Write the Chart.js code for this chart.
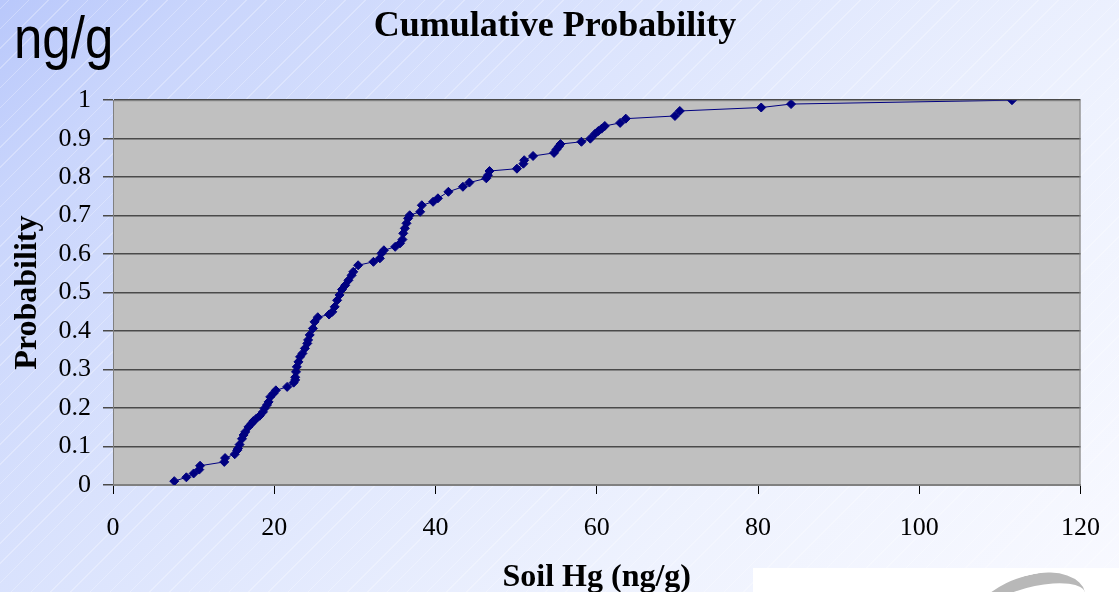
<!DOCTYPE html>
<html lang="en">
<head>
    <meta charset="UTF-8">
    <title>Cumulative Probability - Soil Hg</title>
    <script src="https://cdnjs.cloudflare.com/ajax/libs/Chart.js/4.4.1/chart.umd.min.js"></script>
    <style>
        html, body {
            margin: 0;
            padding: 0;
            width: 1119px;
            height: 592px;
            overflow: hidden;
        }
        body {
            position: relative;
            background:
                repeating-linear-gradient(-45deg, rgba(255,255,255,0) 0px, rgba(255,255,255,0) 13px, rgba(255,255,255,0.28) 13px, rgba(255,255,255,0.28) 14px),
                linear-gradient(135deg, #b9c8fb 0%, #c9d5fc 12%, #dde5fd 40%, #eef2fe 70%, #f8f9ff 100%);
        }
        #unit {
            position: absolute;
            left: 14px;
            top: 3px;
            font-family: "Liberation Sans Narrow", "Liberation Sans", sans-serif;
            font-size: 60px;
            color: #000;
            transform: scaleX(0.85);
            transform-origin: left top;
        }
        #logo-box {
            position: absolute;
            left: 753px;
            top: 568px;
            width: 366px;
            height: 24px;
            background: #fff;
            overflow: hidden;
        }
        #logo-box .swoosh {
            position: absolute;
            left: 215px;
            top: 8px;
            width: 120px;
            height: 60px;
            border-top: 12px solid #b8b8b8;
            border-radius: 60% 40% 0 0;
            transform: rotate(-12deg);
        }
        canvas {
            position: absolute;
            left: 0;
            top: 0;
        }
    </style>
</head>
<body>
    <div id="unit">ng/g</div>
    <div id="logo-box"><div class="swoosh"></div></div>
    <canvas id="cdfChart" width="1119" height="592"></canvas>

    <script>
        // Soil Hg values (ng/g) and their cumulative probabilities
        const soilHg = [
            7.6, 9.1, 10.0, 10.7, 10.8, 13.8, 13.9, 15.1, 15.4, 15.5,
            15.7, 16.0, 16.2, 16.4, 16.8, 17.2, 17.4, 17.8, 18.2, 18.6,
            18.8, 19.1, 19.3, 19.5, 19.9, 20.2, 21.6, 22.4, 22.6, 22.6,
            22.7, 22.8, 23.0, 23.2, 23.5, 23.8, 24.1, 24.2, 24.4, 24.8,
            25.0, 25.4, 26.8, 27.2, 27.5, 27.8, 28.1, 28.4, 28.8, 29.2,
            29.6, 29.8, 30.4, 32.3, 33.1, 33.3, 33.6, 35.0, 35.6, 35.9,
            36.0, 36.2, 36.4, 36.6, 36.8, 38.1, 38.3, 39.7, 40.3, 41.6,
            43.4, 44.2, 46.3, 46.5, 46.7, 50.1, 50.9, 51.0, 52.1, 54.7,
            55.0, 55.3, 55.5, 58.1, 59.2, 59.8, 60.2, 60.6, 61.0, 62.9,
            63.6, 69.7, 70.3, 80.4, 84.1, 111.5
        ];
        const probability = [
            0.010, 0.020, 0.030, 0.040, 0.050, 0.060, 0.070, 0.080, 0.090, 0.095,
            0.105, 0.120, 0.130, 0.138, 0.151, 0.160, 0.166, 0.173, 0.180, 0.190,
            0.199, 0.208, 0.216, 0.229, 0.238, 0.246, 0.255, 0.266, 0.273, 0.280,
            0.294, 0.307, 0.320, 0.333, 0.342, 0.355, 0.368, 0.377, 0.390, 0.407,
            0.424, 0.436, 0.443, 0.450, 0.463, 0.480, 0.494, 0.508, 0.519, 0.532,
            0.545, 0.554, 0.571, 0.580, 0.589, 0.602, 0.610, 0.619, 0.628, 0.638,
            0.654, 0.667, 0.680, 0.693, 0.701, 0.710, 0.727, 0.736, 0.745, 0.762,
            0.775, 0.786, 0.797, 0.805, 0.816, 0.822, 0.835, 0.844, 0.855, 0.863,
            0.872, 0.880, 0.886, 0.892, 0.900, 0.913, 0.920, 0.926, 0.933, 0.941,
            0.952, 0.959, 0.972, 0.981, 0.990, 1.000
        ];
        const xTicks = [0, 20, 40, 60, 80, 100, 120];
        const yTicks = [0, 0.1, 0.2, 0.3, 0.4, 0.5, 0.6, 0.7, 0.8, 0.9, 1];

        const points = soilHg.map((x, i) => ({ x: x, y: probability[i] }));

        // grey plot area with a border, like the spreadsheet chart
        const plotArea = {
            id: 'plotArea',
            beforeDraw(chart) {
                const { ctx, chartArea: a } = chart;
                ctx.save();
                ctx.fillStyle = '#c0c0c0';
                ctx.fillRect(a.left, a.top, a.right - a.left, a.bottom - a.top);
                ctx.restore();
            },
            beforeDatasetsDraw(chart) {
                const { ctx, chartArea: a } = chart;
                ctx.save();
                ctx.strokeStyle = '#808080';
                ctx.lineWidth = 1;
                ctx.strokeRect(a.left + 0.5, a.top + 0.5, a.right - a.left - 1, a.bottom - a.top - 1);
                ctx.restore();
            }
        };

        const serif = '"Liberation Serif", "Times New Roman", serif';

        new Chart(document.getElementById('cdfChart'), {
            type: 'line',
            data: {
                datasets: [{
                    data: points,
                    borderColor: '#000080',
                    backgroundColor: '#000080',
                    borderWidth: 1,
                    pointStyle: 'rectRot',
                    pointRadius: 4.5,
                    pointBorderWidth: 1,
                    tension: 0
                }]
            },
            options: {
                responsive: false,
                animation: false,
                // left padding shifts the centred title to where it sits in the slide
                layout: { padding: { left: 29, right: 38, top: 0, bottom: 0 } },
                plugins: {
                    legend: { display: false },
                    tooltip: { enabled: false },
                    title: {
                        display: true,
                        text: 'Cumulative Probability',
                        color: '#000',
                        font: { family: serif, size: 36, weight: 'bold' },
                        padding: { top: 5, bottom: 52 }
                    }
                },
                scales: {
                    x: {
                        type: 'linear',
                        min: 0,
                        max: 120,
                        afterBuildTicks(scale) {
                            scale.ticks = xTicks.map(v => ({ value: v }));
                        },
                        afterFit(scale) { scale.height = 107; },
                        ticks: {
                            color: '#000',
                            font: { family: serif, size: 26 },
                            padding: 19,
                            maxRotation: 0
                        },
                        grid: {
                            drawOnChartArea: false,
                            drawTicks: true,
                            tickLength: 9,
                            color: '#000'
                        },
                        border: { color: '#808080' },
                        title: {
                            display: true,
                            text: 'Soil Hg (ng/g)',
                            color: '#000',
                            font: { family: serif, size: 32, weight: 'bold' },
                            padding: { top: 0, bottom: -5 }
                        }
                    },
                    y: {
                        min: 0,
                        max: 1,
                        afterBuildTicks(scale) {
                            scale.ticks = yTicks.map(v => ({ value: v }));
                        },
                        afterFit(scale) { scale.width = 84; },
                        ticks: {
                            color: '#000',
                            font: { family: serif, size: 26 },
                            padding: 12,
                            callback: v => String(Math.round(v * 10) / 10)
                        },
                        grid: {
                            drawOnChartArea: true,
                            drawTicks: true,
                            tickLength: 10,
                            color: '#4a4a4a',
                            lineWidth: 1.5
                        },
                        border: { color: '#808080' },
                        title: {
                            display: true,
                            text: 'Probability',
                            color: '#000',
                            font: { family: serif, size: 32, weight: 'bold' },
                            padding: { top: -20, bottom: 0 }
                        }
                    }
                }
            },
            plugins: [plotArea]
        });
    </script>
</body>
</html>
